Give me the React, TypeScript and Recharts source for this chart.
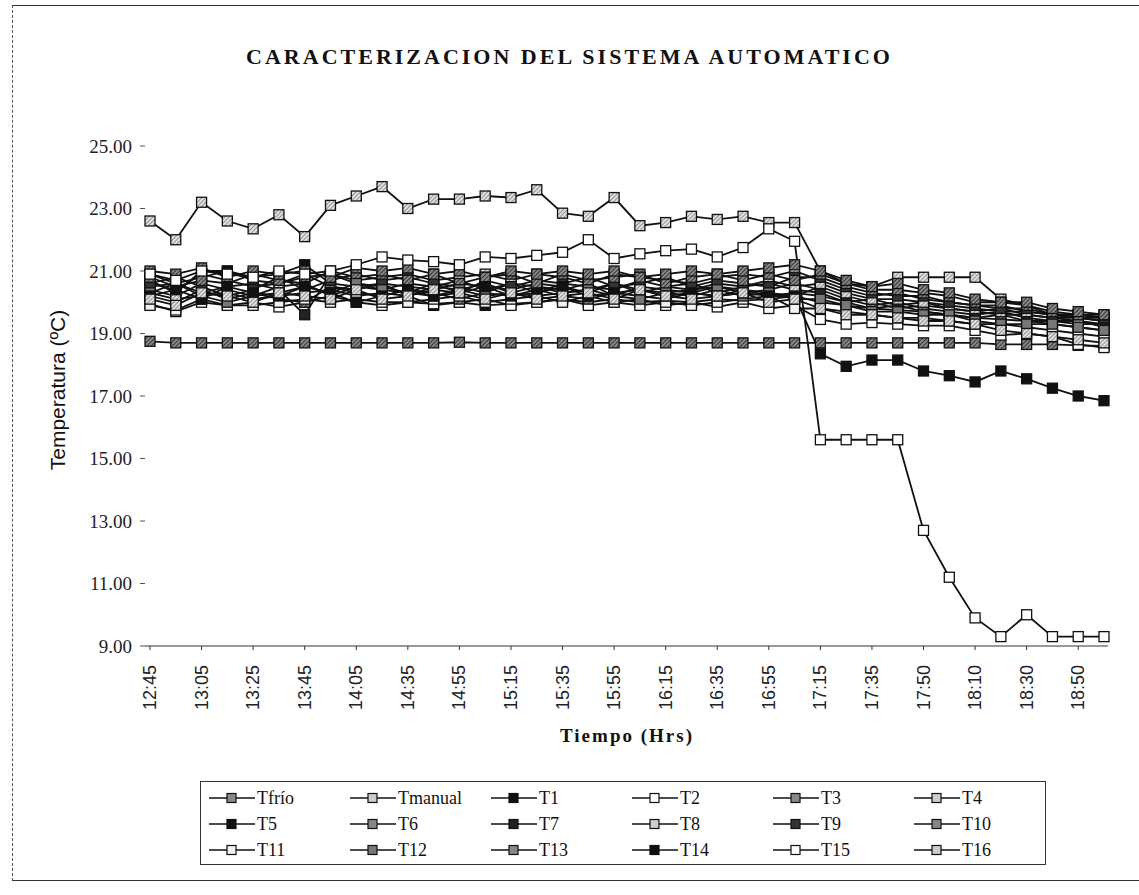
import React from "react";
import { LineChart, Line, XAxis, YAxis } from "recharts";

const times = [
  "12:45", "12:55", "13:05", "13:15", "13:25", "13:35", "13:45", "13:55",
  "14:05", "14:20", "14:35", "14:45", "14:55", "15:05", "15:15", "15:25",
  "15:35", "15:45", "15:55", "16:05", "16:15", "16:25", "16:35", "16:45",
  "16:55", "17:05", "17:15", "17:25", "17:35", "17:42", "17:50", "18:00",
  "18:10", "18:20", "18:30", "18:40", "18:50", "19:00",
];

const yTicks = [9, 11, 13, 15, 17, 19, 21, 23, 25];

// Temperaturas (ºC)
const tFrio = [18.75, 18.7, 18.7, 18.7, 18.7, 18.7, 18.7, 18.7, 18.7, 18.7, 18.7, 18.7, 18.72, 18.7, 18.7, 18.7, 18.7, 18.7, 18.7, 18.7, 18.7, 18.7, 18.7, 18.7, 18.7, 18.7, 18.7, 18.7, 18.7, 18.7, 18.7, 18.7, 18.7, 18.65, 18.65, 18.65, 18.62, 18.6];
const tManual = [22.6, 22.0, 23.2, 22.6, 22.35, 22.8, 22.1, 23.1, 23.4, 23.7, 23.0, 23.3, 23.3, 23.4, 23.35, 23.6, 22.85, 22.75, 23.35, 22.45, 22.55, 22.75, 22.65, 22.75, 22.55, 22.55, 21.0, 20.6, 20.5, 20.8, 20.8, 20.8, 20.8, 20.1, 19.9, 19.6, 19.6, 19.5];
const t1 = [20.3, 20.1, 20.2, 20.3, 20.1, 20.2, 20.3, 20.4, 20.2, 20.3, 20.2, 19.9, 20.0, 19.9, 19.95, 20.0, 20.1, 20.0, 20.1, 20.0, 20.05, 20.0, 20.1, 20.05, 20.1, 20.2, 20.0, 19.9, 19.8, 19.75, 19.7, 19.6, 19.5, 19.45, 19.4, 19.3, 19.2, 19.1];
const t2 = [19.95, 19.7, 20.0, 19.9, 20.0, 19.85, 20.0, 20.2, 20.0, 19.9, 20.0, 19.95, 20.0, 20.1, 19.9, 20.0, 20.1, 19.9, 20.0, 20.1, 19.9, 20.0, 19.85, 20.0, 19.8, 19.9, 19.45, 19.3, 19.35, 19.3, 19.25, 19.25, 19.1, 18.95, 19.0, 18.9, 18.65, 18.55];
const t3 = [20.6, 20.4, 20.9, 20.7, 20.5, 20.6, 20.9, 20.5, 20.4, 20.6, 20.5, 20.4, 20.6, 20.5, 20.4, 20.6, 20.5, 20.3, 20.6, 20.4, 20.3, 20.4, 20.5, 20.3, 20.4, 20.6, 20.4, 20.1, 19.9, 20.0, 19.8, 19.7, 19.6, 19.7, 19.5, 19.4, 19.4, 19.3];
const t4 = [20.9, 20.6, 20.8, 21.0, 20.7, 20.6, 20.8, 20.9, 20.7, 20.8, 20.9, 20.7, 20.8, 20.9, 20.7, 20.9, 20.8, 20.6, 20.9, 20.8, 20.7, 20.6, 20.8, 20.9, 20.8, 21.0, 20.7, 20.4, 20.2, 20.3, 20.1, 20.0, 19.9, 19.9, 19.7, 19.6, 19.5, 19.4];
const t5 = [20.7, 20.3, 21.0, 21.0, 20.8, 20.9, 21.2, 20.6, 20.5, 20.4, 20.6, 20.5, 20.4, 20.6, 20.3, 20.5, 20.4, 20.6, 20.2, 20.5, 20.4, 20.3, 20.5, 20.4, 20.3, 20.2, 20.5, 20.2, 20.0, 19.8, 19.9, 19.8, 19.7, 19.6, 19.6, 19.5, 19.4, 19.2];
const t6 = [20.2, 20.0, 20.4, 20.1, 20.3, 20.1, 20.0, 20.5, 20.3, 20.2, 20.4, 20.3, 20.1, 20.3, 20.2, 20.4, 20.2, 20.1, 20.3, 20.2, 20.1, 20.3, 20.2, 20.4, 20.2, 20.3, 20.2, 20.0, 19.8, 19.9, 19.7, 19.6, 19.5, 19.6, 19.4, 19.4, 19.3, 19.3];
const t7 = [20.5, 20.6, 20.3, 20.5, 20.6, 20.4, 19.6, 20.9, 20.6, 20.5, 20.3, 20.6, 20.5, 20.3, 20.6, 20.5, 20.3, 20.4, 20.6, 20.3, 20.5, 20.6, 20.3, 20.5, 20.6, 20.4, 20.3, 20.0, 20.1, 19.9, 20.0, 19.8, 19.7, 19.8, 19.6, 19.5, 19.5, 19.4];
const t8 = [20.4, 20.2, 20.6, 20.4, 20.2, 20.5, 20.6, 20.2, 20.5, 20.6, 20.2, 20.5, 20.7, 20.4, 20.6, 20.3, 20.6, 20.5, 20.4, 20.7, 20.5, 20.4, 20.6, 20.5, 20.7, 20.5, 20.6, 20.3, 20.1, 20.1, 20.0, 19.9, 19.8, 19.7, 19.7, 19.6, 19.5, 19.5];
const t9 = [20.6, 20.8, 20.5, 20.2, 20.4, 20.8, 20.4, 20.7, 20.9, 20.7, 20.8, 20.6, 20.3, 20.7, 20.5, 20.7, 20.6, 20.8, 20.5, 20.6, 20.8, 20.5, 20.7, 20.6, 20.5, 20.8, 20.8, 20.5, 20.3, 20.2, 20.2, 20.0, 19.9, 19.8, 19.8, 19.6, 19.6, 19.5];
const t10 = [20.8, 20.5, 20.7, 20.6, 20.9, 20.7, 20.6, 21.0, 20.8, 20.9, 20.7, 20.9, 20.6, 20.8, 20.9, 20.6, 20.9, 20.7, 20.8, 20.9, 20.6, 20.8, 20.9, 20.7, 20.9, 20.7, 20.9, 20.6, 20.4, 20.4, 20.3, 20.2, 20.0, 20.0, 19.9, 19.7, 19.6, 19.6];
const t11 = [19.9, 19.75, 20.1, 19.9, 19.9, 20.0, 20.1, 20.0, 20.1, 20.0, 20.0, 20.1, 20.2, 20.0, 20.1, 20.2, 20.0, 20.2, 20.0, 19.9, 20.0, 19.9, 20.0, 20.1, 20.2, 19.8, 19.8, 19.7, 19.6, 19.5, 19.5, 19.4, 19.3, 19.3, 19.2, 19.1, 19.0, 18.9];
const t12 = [20.3, 20.6, 20.2, 20.0, 20.2, 20.3, 20.5, 20.3, 20.6, 20.4, 20.3, 20.2, 20.4, 20.2, 20.3, 20.2, 20.3, 20.4, 20.2, 20.1, 20.3, 20.2, 20.4, 20.2, 20.3, 20.1, 20.1, 19.9, 19.7, 19.7, 19.6, 19.6, 19.4, 19.3, 19.3, 19.3, 19.2, 19.1];
const t13 = [21.0, 20.9, 21.1, 20.8, 21.0, 20.9, 21.0, 20.8, 21.1, 21.0, 21.1, 20.9, 21.0, 20.8, 21.0, 20.9, 21.0, 20.9, 21.0, 20.8, 20.9, 21.0, 20.9, 21.0, 21.1, 21.2, 21.0, 20.7, 20.5, 20.6, 20.4, 20.3, 20.1, 20.0, 20.0, 19.8, 19.7, 19.6];
const t14 = [20.2, 20.4, 20.1, 20.5, 20.3, 20.2, 20.5, 20.3, 20.0, 20.2, 20.4, 20.2, 20.3, 20.5, 20.2, 20.3, 20.5, 20.2, 20.3, 20.4, 20.2, 20.3, 20.2, 20.3, 20.2, 20.2, 18.35, 17.95, 18.15, 18.15, 17.8, 17.65, 17.45, 17.8, 17.55, 17.25, 17.0, 16.85];
const t15 = [20.9, 20.7, 21.0, 20.9, 20.8, 21.0, 20.9, 21.0, 21.2, 21.45, 21.35, 21.3, 21.2, 21.45, 21.4, 21.5, 21.6, 22.0, 21.4, 21.55, 21.65, 21.7, 21.45, 21.75, 22.35, 21.95, 15.6, 15.6, 15.6, 15.6, 12.7, 11.2, 9.9, 9.3, 10.0, 9.3, 9.3, 9.3];
const t16 = [20.1, 19.9, 20.3, 20.2, 20.0, 20.3, 20.2, 20.1, 20.4, 20.1, 20.2, 20.4, 20.3, 20.1, 20.3, 20.1, 20.2, 20.3, 20.1, 20.4, 20.2, 20.1, 20.2, 20.3, 20.0, 20.1, 19.8, 19.6, 19.6, 19.5, 19.4, 19.4, 19.3, 19.1, 19.0, 18.9, 18.8, 18.7];

const series = [
  { key: "Tfrio", label: "Tfrío", values: tFrio, fill: "url(#hatchDark)" },
  { key: "Tmanual", label: "Tmanual", values: tManual, fill: "url(#hatchLight)" },
  { key: "T1", label: "T1", values: t1, fill: "#111" },
  { key: "T2", label: "T2", values: t2, fill: "#fff" },
  { key: "T3", label: "T3", values: t3, fill: "url(#hatchDark)" },
  { key: "T4", label: "T4", values: t4, fill: "url(#hatchLight)" },
  { key: "T5", label: "T5", values: t5, fill: "#111" },
  { key: "T6", label: "T6", values: t6, fill: "url(#hatchDark)" },
  { key: "T7", label: "T7", values: t7, fill: "#222" },
  { key: "T8", label: "T8", values: t8, fill: "url(#hatchLight)" },
  { key: "T9", label: "T9", values: t9, fill: "#333" },
  { key: "T10", label: "T10", values: t10, fill: "url(#hatchDark)" },
  { key: "T11", label: "T11", values: t11, fill: "#f2f2f2" },
  { key: "T12", label: "T12", values: t12, fill: "#777" },
  { key: "T13", label: "T13", values: t13, fill: "url(#hatchDark)" },
  { key: "T14", label: "T14", values: t14, fill: "#111" },
  { key: "T15", label: "T15", values: t15, fill: "#fff" },
  { key: "T16", label: "T16", values: t16, fill: "url(#hatchLight)" },
];

const data = times.map((t, i) => {
  const row: Record<string, string | number> = { t };
  series.forEach((s) => {
    row[s.key] = s.values[i];
  });
  return row;
});

const squareDot = (fill: string, name: string) => (p: any) => (
  <rect
    key={`${name}-${p.index}`}
    x={p.cx - 5}
    y={p.cy - 5}
    width={10}
    height={10}
    fill={fill}
    stroke="#111"
    strokeWidth={1.3}
  />
);

const XTick = ({ x, y, payload }: any) => (
  <text
    x={x}
    y={y + 13}
    transform={`rotate(-90 ${x} ${y + 13})`}
    textAnchor="end"
    dominantBaseline="central"
    fontFamily="'Liberation Sans', Arial, sans-serif"
    fontSize={18}
    fill="#222"
  >
    {payload.value}
  </text>
);

const serif = "'Liberation Serif', 'Times New Roman', serif";
const legendFill = (f: string) =>
  f === "url(#hatchDark)" ? "#888" : f === "url(#hatchLight)" ? "#ccc" : f;

export default function App() {
  return (
    <div style={{ position: "absolute", left: 0, top: 0, width: 1139, height: 895, background: "#fff" }}>
      <div style={{ position: "absolute", left: 12, top: 5, right: 0, bottom: 14, borderTop: "1px solid #333", borderLeft: "1px dashed #555", borderBottom: "1px solid #333" }} />
      <div
        style={{
          position: "absolute", left: 0, width: 1139, top: 44, textAlign: "center",
          fontFamily: serif, fontWeight: "bold", fontSize: 22, letterSpacing: 3, color: "#111",
        }}
      >
        CARACTERIZACION DEL SISTEMA AUTOMATICO
      </div>
      <div
        style={{
          position: "absolute", left: 58, top: 390, transform: "translate(-50%, -50%) rotate(-90deg)",
          whiteSpace: "nowrap", fontFamily: "'Liberation Sans', Arial, sans-serif", fontSize: 21, color: "#111",
        }}
      >
        Temperatura (ºC)
      </div>
      <div
        style={{
          position: "absolute", left: 0, width: 1254, top: 725, textAlign: "center",
          fontFamily: serif, fontWeight: "bold", fontSize: 19, letterSpacing: 2, color: "#111",
        }}
      >
        Tiempo (Hrs)
      </div>
      <LineChart width={1139} height={895} data={data} margin={{ top: 146, right: 31, left: 80, bottom: 189 }}>
        <defs>
          <pattern id="hatchDark" width="3" height="3" patternUnits="userSpaceOnUse" patternTransform="rotate(45)">
            <rect width="3" height="3" fill="#888" />
            <line x1="0" y1="0" x2="0" y2="3" stroke="#111" strokeWidth="1.4" />
          </pattern>
          <pattern id="hatchLight" width="3" height="3" patternUnits="userSpaceOnUse" patternTransform="rotate(45)">
            <rect width="3" height="3" fill="#e0e0e0" />
            <line x1="0" y1="0" x2="0" y2="3" stroke="#444" strokeWidth="1" />
          </pattern>
        </defs>
        <XAxis
          dataKey="t"
          interval={1}
          tick={<XTick />}
          tickSize={4}
          height={60}
          padding={{ left: 5, right: 4 }}
          axisLine={{ stroke: "#333" }}
          tickLine={{ stroke: "#333" }}
        />
        <YAxis
          domain={[9, 25]}
          ticks={yTicks}
          width={65}
          tickFormatter={(v: number) => v.toFixed(2)}
          axisLine={false}
          tickSize={5}
          tickMargin={8}
          tickLine={{ stroke: "#555" }}
          tick={{ fontFamily: serif, fontSize: 19, fill: "#222" }}
        />
        {series.map((s) => (
          <Line
            key={s.key}
            type="linear"
            dataKey={s.key}
            name={s.label}
            stroke="#111"
            strokeWidth={1.8}
            dot={squareDot(s.fill, s.key)}
            activeDot={false}
            isAnimationActive={false}
          />
        ))}
      </LineChart>
      <div
        style={{
          position: "absolute", left: 200, top: 781, width: 846, height: 84,
          border: "1px solid #333", boxSizing: "border-box",
        }}
      >
        {series.map((s, i) => {
          const col = i % 6;
          const row = Math.floor(i / 6);
          return (
            <div
              key={s.key}
              style={{
                position: "absolute", left: 8 + col * 141, top: 4 + row * 26, height: 24,
                display: "flex", alignItems: "center", whiteSpace: "nowrap",
              }}
            >
              <svg width={46} height={12}>
                <line x1={0} y1={6} x2={46} y2={6} stroke="#111" strokeWidth={1.6} />
                <rect x={18} y={1.5} width={9} height={9} fill={legendFill(s.fill)} stroke="#111" strokeWidth={1.2} />
              </svg>
              <span style={{ fontFamily: serif, fontSize: 18, color: "#111", marginLeft: 2 }}>{s.label}</span>
            </div>
          );
        })}
      </div>
    </div>
  );
}
